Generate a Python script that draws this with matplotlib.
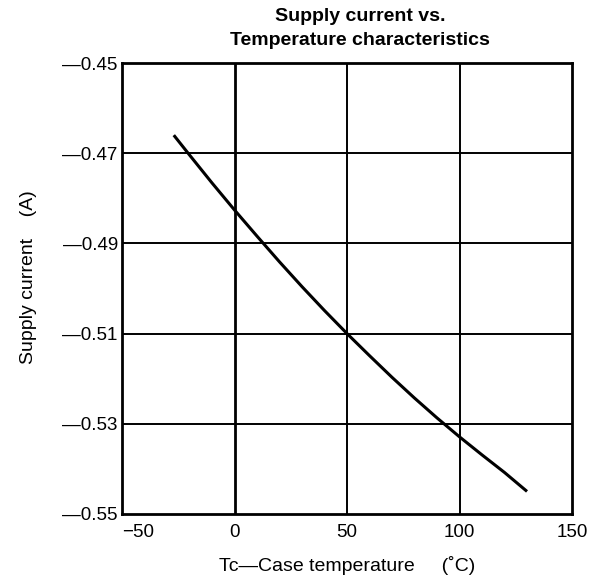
import numpy as np
import matplotlib
matplotlib.use("Agg")
import matplotlib.pyplot as plt

# curve
temp_c = [-27, -20, -10, 0, 10, 20, 30, 40, 50, 60, 70, 80, 90, 100, 110, 120, 130]
supply_a = [-0.4660, -0.4704, -0.4766, -0.4826, -0.4884, -0.4941, -0.4996, -0.5049,
            -0.5100, -0.5149, -0.5197, -0.5243, -0.5287, -0.5329, -0.5369, -0.5408, -0.5450]

x_ticks = [-50, 0, 50, 100, 150]
x_labels = ["\u221250", "0", "50", "100", "150"]
y_ticks = [-0.55, -0.53, -0.51, -0.49, -0.47, -0.45]
y_labels = ["\u20140.55", "\u20140.53", "\u20140.51", "\u20140.49", "\u20140.47", "\u20140.45"]

plt.rcParams['font.family'] = ['Liberation Sans', 'DejaVu Sans']

fig = plt.figure(figsize=(6.05, 5.85), dpi=100)
ax = fig.add_axes([0.2017, 0.1214, 0.7438, 0.7709])

ax.plot(temp_c, supply_a, color='black', lw=2.2, solid_capstyle='butt', zorder=3)

ax.set_xlim(-50, 150)
ax.set_ylim(-0.55, -0.45)
ax.set_xticks(x_ticks)
ax.set_xticklabels(x_labels)
ax.set_yticks(y_ticks)
ax.set_yticklabels(y_labels)
ax.tick_params(length=0, labelsize=13.5)
ax.tick_params(axis='x', pad=7)
ax.tick_params(axis='y', pad=3)
ax.get_xticklabels()[0].set_horizontalalignment('left')

for xv in [0, 50, 100]:
    ax.axvline(xv, color='black', lw=2.0 if xv == 0 else 1.4, zorder=1)
for yv in [-0.53, -0.51, -0.49, -0.47]:
    ax.axhline(yv, color='black', lw=1.4, zorder=1)

for s in ax.spines.values():
    s.set_linewidth(2.0)

fig.text(0.595, 0.951, "Supply current vs.\nTemperature characteristics", fontsize=14,
         fontweight='bold', linespacing=1.55, ha='center', va='center')
ax.set_xlabel("Tc\u2014Case temperature     (\u02daC)", fontsize=14)
ax.xaxis.set_label_coords(0.5, -0.093)
ax.set_ylabel("Supply current    (A)", fontsize=14)
ax.yaxis.set_label_coords(-0.19, 0.525)

fig.savefig("out.png", dpi=100)
